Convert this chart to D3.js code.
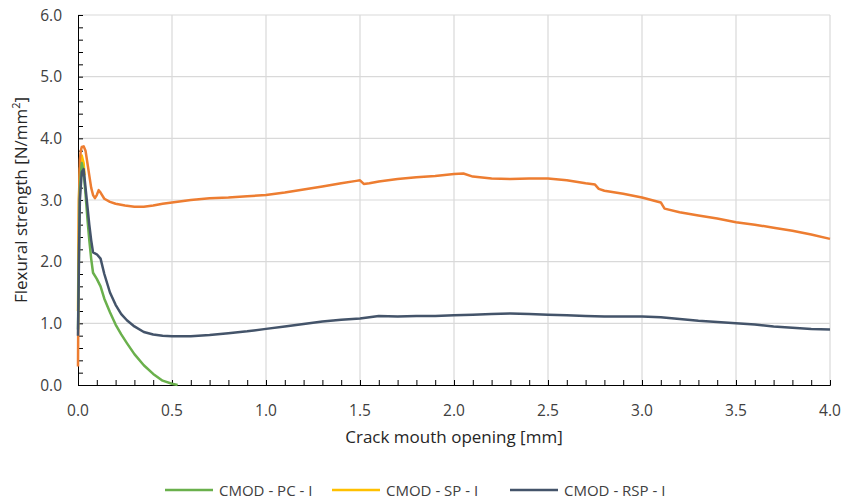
<!DOCTYPE html>
<html>
<head>
<meta charset="utf-8">
<script src="https://cdn.jsdelivr.net/npm/d3@7"></script>
<style>
  body { margin: 0; background: #fff; }
  text { font-family: "Open Sans", "Noto Sans", sans-serif; }
</style>
</head>
<body>
<svg width="843" height="500"></svg>
<script>
"use strict";

const xTicks = [0, 0.5, 1.0, 1.5, 2.0, 2.5, 3.0, 3.5, 4.0];
const yTicks = [0, 1, 2, 3, 4, 5, 6];
const seriesNames = ["CMOD - PC - I", "CMOD - SP - I", "CMOD - RSP - I"];

const pcData = [[0,0.9],[0.005,2.2],[0.01,3.2],[0.02,3.6],[0.03,3.45],[0.04,3.1],[0.05,2.7],[0.06,2.35],[0.07,2.05],[0.08,1.82],[0.1,1.72],[0.12,1.6],[0.14,1.4],[0.17,1.18],[0.2,0.98],[0.23,0.82],[0.26,0.68],[0.3,0.5],[0.35,0.32],[0.4,0.18],[0.45,0.07],[0.5,0.02],[0.53,0.0]];

const spData = [[0,1.2],[0.005,3.0],[0.01,3.5],[0.02,3.72],[0.03,3.6],[0.035,3.4]];

const spMainData = [[0,0.3],[0.005,3.0],[0.01,3.65],[0.015,3.8],[0.02,3.86],[0.03,3.87],[0.04,3.8],[0.05,3.6],[0.06,3.4],[0.07,3.2],[0.08,3.08],[0.09,3.03],[0.1,3.08],[0.11,3.16],[0.12,3.12],[0.14,3.02],[0.17,2.97],[0.2,2.94],[0.25,2.91],[0.3,2.89],[0.35,2.89],[0.4,2.91],[0.45,2.94],[0.5,2.96],[0.6,3.0],[0.7,3.03],[0.8,3.04],[0.9,3.06],[1.0,3.08],[1.1,3.12],[1.2,3.17],[1.3,3.22],[1.4,3.27],[1.48,3.31],[1.5,3.32],[1.52,3.26],[1.55,3.27],[1.6,3.3],[1.7,3.34],[1.8,3.37],[1.9,3.39],[2.0,3.42],[2.05,3.43],[2.1,3.38],[2.2,3.35],[2.3,3.34],[2.4,3.35],[2.5,3.35],[2.6,3.32],[2.7,3.27],[2.75,3.25],[2.77,3.18],[2.8,3.15],[2.9,3.1],[3.0,3.04],[3.1,2.96],[3.12,2.86],[3.2,2.8],[3.3,2.75],[3.4,2.7],[3.5,2.64],[3.6,2.6],[3.7,2.55],[3.8,2.5],[3.9,2.44],[4.0,2.37]];

const rspData = [[0,0.8],[0.005,2.0],[0.01,3.0],[0.02,3.45],[0.03,3.5],[0.04,3.2],[0.05,2.9],[0.06,2.6],[0.07,2.35],[0.08,2.15],[0.1,2.12],[0.12,2.05],[0.14,1.8],[0.17,1.5],[0.2,1.3],[0.23,1.15],[0.26,1.05],[0.3,0.95],[0.35,0.86],[0.4,0.82],[0.45,0.8],[0.5,0.79],[0.6,0.79],[0.7,0.81],[0.8,0.84],[0.9,0.87],[1.0,0.91],[1.1,0.95],[1.2,0.99],[1.3,1.03],[1.4,1.06],[1.5,1.08],[1.6,1.12],[1.7,1.11],[1.8,1.12],[1.9,1.12],[2.0,1.13],[2.1,1.14],[2.2,1.15],[2.3,1.16],[2.4,1.15],[2.5,1.14],[2.6,1.13],[2.7,1.12],[2.8,1.11],[2.9,1.11],[3.0,1.11],[3.1,1.1],[3.2,1.07],[3.3,1.04],[3.4,1.02],[3.5,1.0],[3.6,0.98],[3.7,0.95],[3.8,0.93],[3.9,0.91],[4.0,0.9]];

const colors = { pc: "#6ab04c", sp: "#ffc000", spMain: "#ed7d31", rsp: "#44546a" };

const svg = d3.select("svg");
const plotLeft = 78, plotRight = 830, plotTop = 15, plotBottom = 385;

const x = d3.scaleLinear().domain([0, 4]).range([plotLeft, plotRight]);
const y = d3.scaleLinear().domain([0, 6]).range([plotBottom, plotTop]);

// grid
svg.append("g").selectAll("line").data(xTicks.slice(1))
  .join("line")
  .attr("x1", d => x(d)).attr("x2", d => x(d))
  .attr("y1", plotTop).attr("y2", plotBottom)
  .attr("stroke", "#d9d9d9").attr("stroke-width", 1.2);
svg.append("g").selectAll("line").data(yTicks.slice(1))
  .join("line")
  .attr("x1", plotLeft).attr("x2", plotRight)
  .attr("y1", d => y(d)).attr("y2", d => y(d))
  .attr("stroke", "#d9d9d9").attr("stroke-width", 1.2);

// axes with inward minor ticks
const xAxis = d3.axisTop(x).ticks(40).tickSize(5).tickFormat("");
svg.append("g").attr("transform", `translate(0,${plotBottom})`).call(xAxis)
  .call(g => g.selectAll("path, line").attr("stroke", "#000"));
const yAxis = d3.axisRight(y).ticks(30).tickSize(5).tickFormat("");
svg.append("g").attr("transform", `translate(${plotLeft},0)`).call(yAxis)
  .call(g => g.selectAll("path, line").attr("stroke", "#000"));

// tick labels
svg.append("g").selectAll("text").data(xTicks)
  .join("text")
  .attr("x", d => x(d)).attr("y", 416)
  .attr("text-anchor", "middle")
  .attr("font-size", 15.5).attr("fill", "#404040")
  .text(d => d.toFixed(1));
svg.append("g").selectAll("text").data(yTicks)
  .join("text")
  .attr("x", 62).attr("y", d => y(d) + 5.5)
  .attr("text-anchor", "end")
  .attr("font-size", 15.5).attr("fill", "#404040")
  .text(d => d.toFixed(1));

// axis titles
svg.append("text")
  .attr("x", (plotLeft + plotRight) / 2).attr("y", 443)
  .attr("text-anchor", "middle").attr("font-size", 17).attr("fill", "#262626")
  .text("Crack mouth opening [mm]");
svg.append("text")
  .attr("transform", `translate(27,${(plotTop + plotBottom) / 2}) rotate(-90)`)
  .attr("text-anchor", "middle").attr("font-size", 17).attr("fill", "#262626")
  .html('Flexural strength [N/mm<tspan baseline-shift="super" font-size="11">2</tspan>]');

// lines
const line = d3.line().x(d => x(d[0])).y(d => y(d[1]));
const plot = [
  [spData, colors.sp],
  [spMainData, colors.spMain],
  [pcData, colors.pc],
  [rspData, colors.rsp]
];
plot.forEach(([data, c]) => {
  svg.append("path").datum(data)
    .attr("d", line)
    .attr("fill", "none")
    .attr("stroke", c)
    .attr("stroke-width", 2.5)
    .attr("stroke-linejoin", "round");
});

// legend
const legend = [
  { name: seriesNames[0], color: colors.pc, x: 165 },
  { name: seriesNames[1], color: colors.sp, x: 332 },
  { name: seriesNames[2], color: colors.rsp, x: 510 }
];
const lg = svg.append("g").selectAll("g").data(legend).join("g")
  .attr("transform", d => `translate(${d.x},490)`);
lg.append("line").attr("x1", 0).attr("x2", 48).attr("y1", 0).attr("y2", 0)
  .attr("stroke", d => d.color).attr("stroke-width", 2.5);
lg.append("text").attr("x", 54).attr("y", 5.5)
  .attr("font-size", 15).attr("fill", "#404040")
  .text(d => d.name);
</script>
</body>
</html>
